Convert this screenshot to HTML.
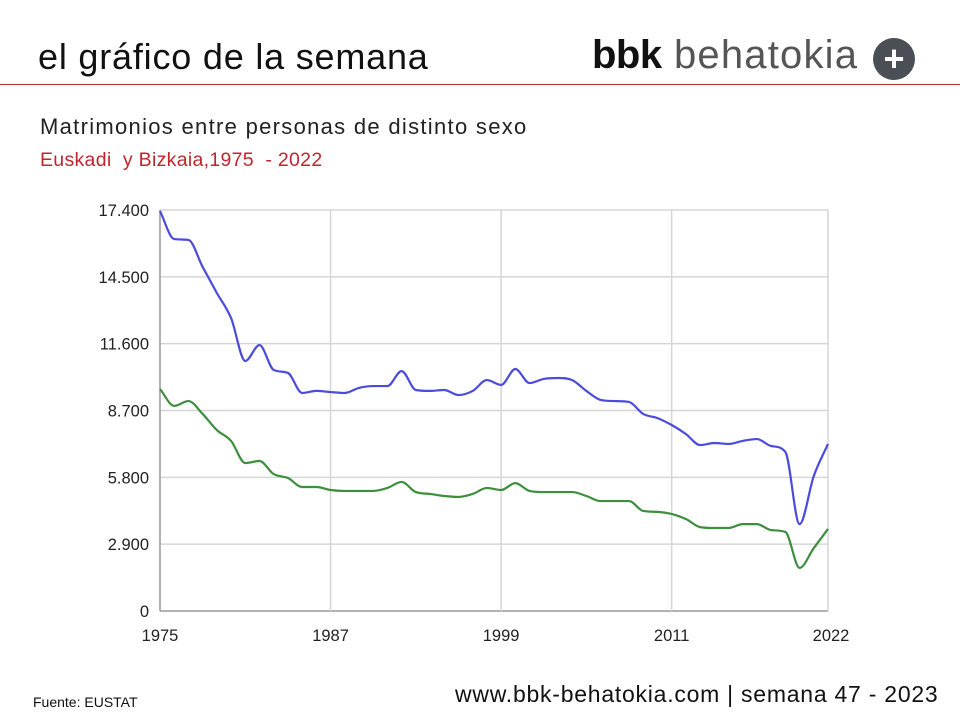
<!DOCTYPE html>
<html><head><meta charset="utf-8"><style>
body{margin:0;width:960px;height:720px;background:#fff;font-family:"Liberation Sans",sans-serif;position:relative;overflow:hidden}
.a{position:absolute;white-space:nowrap}
</style></head><body>
<div class="a" style="left:38px;top:36px;font-size:36px;letter-spacing:0.8px;color:#111">el gráfico de la semana</div>
<div class="a" style="left:592px;top:33px;font-size:40px;color:#555;letter-spacing:1.2px"><b style="color:#111;letter-spacing:-0.5px">bbk</b> behatokia</div>
<div class="a" style="left:873px;top:38px;width:42px;height:42px;border-radius:50%;background:#4a4f55;color:#fff;font-size:36px;font-weight:bold;text-align:center;line-height:42px">+</div>
<div class="a" style="left:0;top:84px;width:960px;height:1px;background:#a33"></div>
<div class="a" style="left:40px;top:114px;font-size:22px;letter-spacing:1.3px;color:#222">Matrimonios entre personas de distinto sexo</div>
<div class="a" style="left:40px;top:149px;font-size:19.5px;letter-spacing:0.3px;color:#c0262d">Euskadi &nbsp;y Bizkaia,1975 &nbsp;- 2022</div>
<svg class="a" style="left:0;top:0" width="960" height="720">
<g id="grid"></g><g id="lines"></g><g id="labels"></g>
</svg>
<div class="a" style="left:33px;top:694px;font-size:14px;color:#111">Fuente: EUSTAT</div>
<div class="a" style="left:455px;top:681px;font-size:23px;letter-spacing:0.75px;color:#111">www.bbk-behatokia.com | semana 47 - 2023</div>
<script>
const years=[];for(let y=1975;y<=2022;y++)years.push(y);
const euskadi=[17350,16140,16100,14930,13800,12710,10850,11540,10460,10330,9460,9550,9500,9460,9680,9760,9760,10410,9590,9550,9590,9370,9550,10020,9810,10500,9890,10070,10110,10020,9550,9160,9110,9070,8550,8370,8070,7680,7200,7290,7250,7380,7460,7160,6900,3770,5860,7250];
const bizkaia=[9630,8900,9110,8550,7850,7380,6420,6510,5940,5770,5380,5380,5250,5210,5210,5210,5340,5600,5160,5080,4990,4950,5080,5340,5250,5550,5210,5160,5160,5160,4990,4770,4770,4770,4340,4300,4210,3990,3640,3600,3600,3770,3770,3510,3430,1870,2730,3560];
const yTicks=[0,2900,5800,8700,11600,14500,17400];
const yTickLabels=["0","2.900","5.800","8.700","11.600","14.500","17.400"];
const xTicks=[1975,1987,1999,2011,2022];
const X0=160,X1=828,Y0=611,Y1=210;
const sx=y=>X0+(y-1975)*(X1-X0)/(2022-1975);
const sy=v=>Y0-v*(Y0-Y1)/17400;
const NS="http://www.w3.org/2000/svg";
const G=document.getElementById('grid'),L=document.getElementById('lines'),T=document.getElementById('labels');
function mk(tag,at,p){const e=document.createElementNS(NS,tag);for(const k in at)e.setAttribute(k,at[k]);p.appendChild(e);return e;}
yTicks.forEach((v,i)=>{
 const l=mk('line',{x1:X0,x2:X1,y1:sy(v),y2:sy(v),stroke:v===0?'#999':'#d6d6d6','stroke-width':1.5},G);
 
 
 const t=mk('text',{x:X0-11,y:sy(v)+6,'text-anchor':'end','font-size':16.5,fill:'#222','font-family':'Liberation Sans, sans-serif'},T);t.textContent=yTickLabels[i];
 
 
});
xTicks.forEach(y=>{
 const l=mk('line',{x1:sx(y),x2:sx(y),y1:Y1,y2:Y0,stroke:y===1975?'#999':'#d6d6d6','stroke-width':1.5},G);
 
 
 const t=mk('text',{x:sx(y)+(y===2022?3:0),y:Y0+30,'text-anchor':'middle','font-size':16.5,fill:'#222','font-family':'Liberation Sans, sans-serif'},T);t.textContent=y;
 
 
});
function path(vals){
 const p=vals.map((v,i)=>[sx(years[i]),sy(v)]);const n=p.length;
 const d=[],m=[];for(let i=0;i<n-1;i++)d.push((p[i+1][1]-p[i][1])/(p[i+1][0]-p[i][0]));
 m[0]=d[0];m[n-1]=d[n-2];
 for(let i=1;i<n-1;i++){m[i]=(d[i-1]*d[i]<=0)?0:(d[i-1]+d[i])/2;}
 for(let i=0;i<n-1;i++){if(d[i]===0){m[i]=0;m[i+1]=0;continue;}const a=m[i]/d[i],b=m[i+1]/d[i],s=a*a+b*b;if(s>9){const t=3/Math.sqrt(s);m[i]=t*a*d[i];m[i+1]=t*b*d[i];}}
 let s='M'+p[0][0]+','+p[0][1];
 for(let i=0;i<n-1;i++){const h=(p[i+1][0]-p[i][0])/3;
  s+=' C'+(p[i][0]+h)+','+(p[i][1]+m[i]*h)+' '+(p[i+1][0]-h)+','+(p[i+1][1]-m[i+1]*h)+' '+p[i+1][0]+','+p[i+1][1];}
 return s;}
const pe=mk('path',{d:path(euskadi),fill:'none',stroke:'#4b4bdc','stroke-width':2.2},L);


const pb=mk('path',{d:path(bizkaia),fill:'none',stroke:'#3d8f3d','stroke-width':2.2},L);


</script>
</body></html>
